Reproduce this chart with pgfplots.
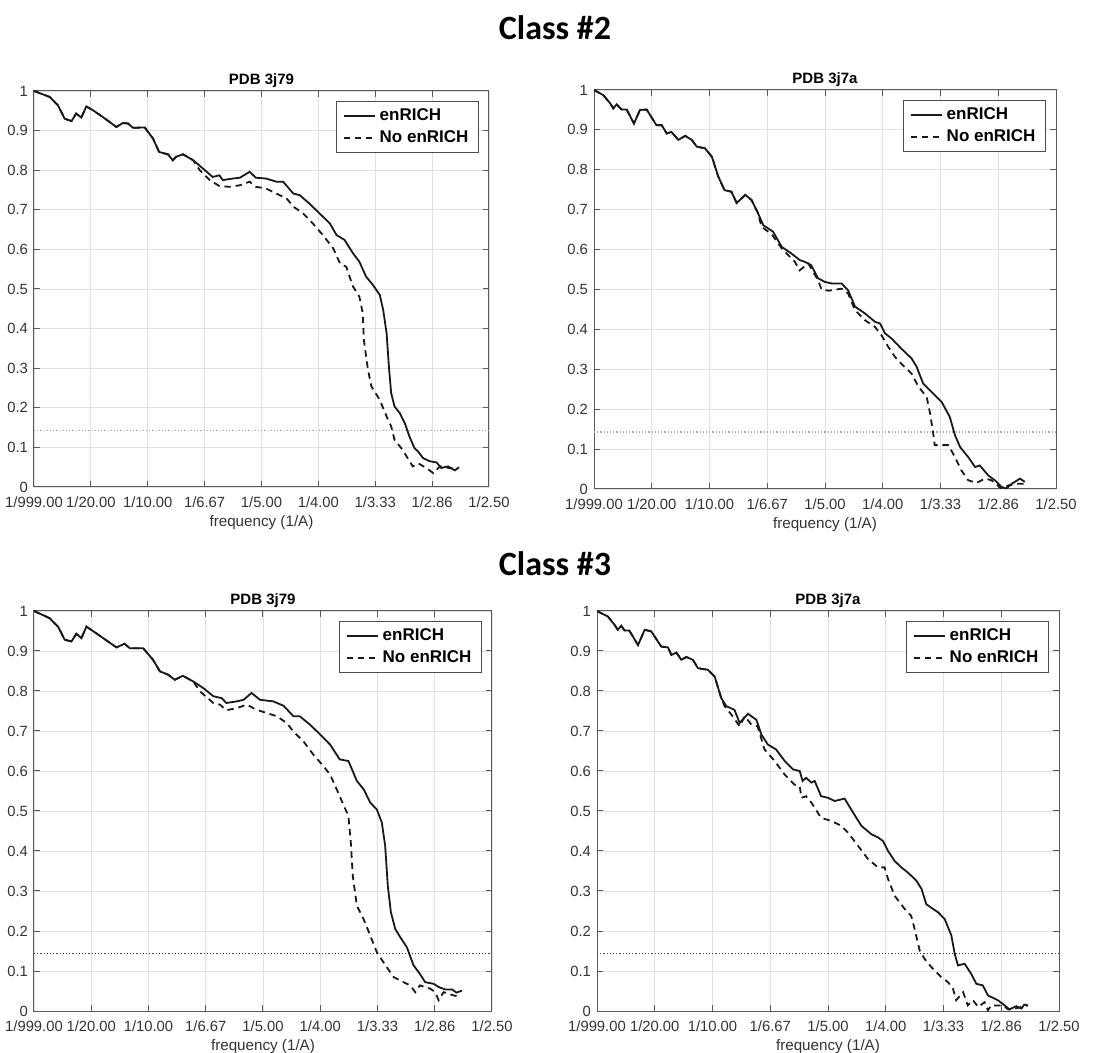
\documentclass[border=0pt]{standalone}
\usepackage{pgfplots}
\pgfplotsset{compat=1.18}
\usepackage{fontspec}
\setmainfont{Liberation Sans}
\newfontfamily\classfont{Carlito}
\definecolor{gridc}{RGB}{225,225,225}
\definecolor{axc}{RGB}{90,90,90}
\pgfplotsset{
  fscaxis/.style={
    scale only axis,
    xmin=0, xmax=0.4, ymin=0, ymax=1,
    xtick={0,0.05,0.1,0.15,0.2,0.25,0.3,0.35,0.4},
    xticklabels={1/999.00,1/20.00,1/10.00,1/6.67,1/5.00,1/4.00,1/3.33,1/2.86,1/2.50},
    ytick={0,0.1,0.2,0.3,0.4,0.5,0.6,0.7,0.8,0.9,1},
    yticklabels={0,0.1,0.2,0.3,0.4,0.5,0.6,0.7,0.8,0.9,1},
    grid=major,
    major grid style={gridc, line width=0.4pt},
    axis line style={axc, line width=0.5pt},
    tick style={axc, line width=0.5pt},
    tick align=inside,
    major tick length=3pt,
    ticklabel style={font=\fontsize{7.4}{8.5}\selectfont, text=black!80},
    xticklabel style={yshift=-1.5pt},
    yticklabel style={xshift=0.5pt},
    xlabel={frequency (1/A)},
    xlabel style={font=\fontsize{7.6}{8.5}\selectfont, text=black!80, yshift=3pt},
    title style={font=\bfseries\fontsize{7.5}{8}\selectfont, yshift=-8pt},
    legend style={at={(1,1)}, anchor=north east, xshift=-5pt, yshift=-5pt,
      font=\bfseries\fontsize{8.5}{10}\selectfont, draw=black!70, line width=0.5pt,
      inner xsep=3pt, inner ysep=1.5pt, row sep=-0.5pt},
    legend cell align=left,
    legend image code/.code={\draw[#1] (0cm,0cm) -- (0.55cm,0cm);},
  },
  solidstyle/.style={black!90, solid, line width=0.9pt, mark=none},
  dashstyle/.style={black!90, line width=0.9pt, mark=none, dash pattern=on 3.2pt off 2.4pt},
}
\begin{document}
\begin{tikzpicture}
\path[use as bounding box] (0,0) rectangle (555pt,-526.5pt);
\node[font=\classfont\bfseries\fontsize{17}{19}\selectfont] at (277.5pt,-14pt) {Class \#2};
\node[font=\classfont\bfseries\fontsize{17}{19}\selectfont] at (277.5pt,-282pt) {Class \#3};

% ---------------- Top left
\begin{axis}[fscaxis, at={(17pt,-45.5pt)}, anchor=north west, width=227.5pt, height=198pt, title={PDB 3j79}]
\addplot[gray!70, densely dotted, line width=0.6pt, forget plot] coordinates {(0,0.143) (0.4,0.143)};
\addplot[solidstyle] coordinates {
(0,1.0) (0.0138,0.985) (0.021,0.964) (0.027,0.930) (0.033,0.924) (0.037,0.943) (0.0416,0.933) (0.046,0.961) (0.052,0.951) (0.0607,0.934) (0.0724,0.909) (0.078,0.919) (0.0826,0.918) (0.087,0.907) (0.0973,0.908) (0.1046,0.880) (0.110,0.846) (0.1178,0.840) (0.122,0.825) (0.125,0.834) (0.131,0.840) (0.140,0.825) (0.1486,0.804) (0.157,0.783) (0.163,0.787) (0.166,0.775) (0.175,0.779) (0.181,0.781) (0.1896,0.796) (0.195,0.781) (0.204,0.779) (0.213,0.771) (0.219,0.771) (0.228,0.741) (0.2336,0.737) (0.242,0.716) (0.251,0.691) (0.26,0.666) (0.266,0.636) (0.273,0.624) (0.2805,0.590) (0.286,0.569) (0.292,0.531) (0.298,0.510) (0.304,0.485) (0.307,0.447) (0.310,0.388) (0.312,0.304) (0.314,0.237) (0.317,0.203) (0.3215,0.187) (0.326,0.161) (0.330,0.128) (0.3345,0.098) (0.3376,0.090) (0.342,0.073) (0.348,0.065) (0.354,0.062) (0.358,0.048) (0.364,0.052) (0.370,0.042) (0.3737,0.050)};
\addlegendentry{enRICH}
\addplot[dashstyle] coordinates {
(0,1.0) (0.0138,0.985) (0.021,0.964) (0.027,0.930) (0.033,0.924) (0.037,0.943) (0.0416,0.933) (0.046,0.961) (0.052,0.951) (0.0607,0.934) (0.0724,0.909) (0.078,0.919) (0.0826,0.918) (0.087,0.907) (0.0973,0.908) (0.1046,0.880) (0.110,0.846) (0.1178,0.840) (0.122,0.825) (0.125,0.834) (0.131,0.840) (0.140,0.825) (0.1457,0.800) (0.1545,0.775) (0.163,0.760) (0.172,0.758) (0.181,0.762) (0.1896,0.771) (0.195,0.758) (0.204,0.754) (0.213,0.741) (0.222,0.729) (0.228,0.708) (0.2365,0.691) (0.245,0.666) (0.254,0.636) (0.263,0.603) (0.269,0.565) (0.2745,0.556) (0.2805,0.506) (0.286,0.481) (0.289,0.439) (0.290,0.371) (0.2936,0.296) (0.2966,0.254) (0.304,0.220) (0.310,0.178) (0.314,0.153) (0.317,0.119) (0.324,0.094) (0.333,0.052) (0.3376,0.060) (0.345,0.048) (0.351,0.035) (0.357,0.052) (0.365,0.048) (0.3726,0.045)};
\addlegendentry{No enRICH}
\end{axis}

% ---------------- Top right
\begin{axis}[fscaxis, at={(297pt,-45pt)}, anchor=north west, width=231pt, height=199.5pt, title={PDB 3j7a}]
\addplot[gray!70, densely dotted, line width=0.6pt, forget plot] coordinates {(0,0.143) (0.4,0.143)};
\addplot[solidstyle] coordinates {
(0,1.0) (0.0081,0.987) (0.0139,0.967) (0.0167,0.954) (0.0196,0.964) (0.024,0.951) (0.0283,0.951) (0.0346,0.916) (0.0398,0.950) (0.0456,0.951) (0.054,0.912) (0.0586,0.912) (0.063,0.891) (0.067,0.895) (0.073,0.875) (0.079,0.885) (0.0846,0.875) (0.089,0.858) (0.096,0.854) (0.102,0.833) (0.1076,0.783) (0.113,0.749) (0.119,0.745) (0.1235,0.717) (0.131,0.737) (0.1365,0.724) (0.142,0.691) (0.1466,0.661) (0.155,0.645) (0.1625,0.607) (0.171,0.590) (0.178,0.574) (0.1827,0.569) (0.188,0.561) (0.194,0.528) (0.200,0.519) (0.206,0.515) (0.2144,0.515) (0.220,0.498) (0.226,0.457) (0.2346,0.440) (0.2433,0.419) (0.2476,0.415) (0.252,0.390) (0.2577,0.377) (0.266,0.352) (0.275,0.327) (0.2794,0.306) (0.285,0.264) (0.291,0.247) (0.301,0.218) (0.308,0.181) (0.3125,0.135) (0.317,0.105) (0.324,0.080) (0.330,0.055) (0.334,0.059) (0.3414,0.034) (0.347,0.022) (0.353,0.005) (0.357,0.001) (0.3616,0.013) (0.3688,0.026) (0.373,0.018)};
\addlegendentry{enRICH}
\addplot[dashstyle] coordinates {
(0,1.0) (0.0081,0.987) (0.0139,0.967) (0.0167,0.954) (0.0196,0.964) (0.024,0.951) (0.0283,0.951) (0.0346,0.916) (0.0398,0.950) (0.0456,0.951) (0.054,0.912) (0.0586,0.912) (0.063,0.891) (0.067,0.895) (0.073,0.875) (0.079,0.885) (0.0846,0.875) (0.089,0.858) (0.096,0.854) (0.102,0.833) (0.1076,0.783) (0.113,0.749) (0.119,0.745) (0.1235,0.717) (0.131,0.737) (0.1365,0.724) (0.142,0.691) (0.145,0.657) (0.1538,0.639) (0.1625,0.603) (0.174,0.569) (0.178,0.548) (0.1856,0.565) (0.194,0.523) (0.197,0.500) (0.203,0.497) (0.2144,0.502) (0.220,0.490) (0.226,0.448) (0.2346,0.423) (0.2433,0.406) (0.249,0.385) (0.2548,0.356) (0.2606,0.331) (0.266,0.314) (0.275,0.289) (0.281,0.256) (0.288,0.231) (0.291,0.189) (0.2937,0.139) (0.295,0.110) (0.3068,0.110) (0.3125,0.080) (0.318,0.047) (0.324,0.022) (0.331,0.015) (0.3385,0.026) (0.344,0.022) (0.353,0.001) (0.3587,0.009) (0.366,0.013) (0.373,0.013)};
\addlegendentry{No enRICH}
\end{axis}

% ---------------- Bottom left
\begin{axis}[fscaxis, at={(17pt,-305.5pt)}, anchor=north west, width=229pt, height=200pt, title={PDB 3j79}]
\addplot[black!75, densely dotted, line width=0.6pt, forget plot] coordinates {(0,0.143) (0.4,0.143)};
\addplot[solidstyle] coordinates {
(0,1.0) (0.0137,0.982) (0.021,0.961) (0.0268,0.928) (0.0327,0.924) (0.037,0.943) (0.0414,0.932) (0.0458,0.961) (0.0545,0.944) (0.072,0.909) (0.079,0.918) (0.0837,0.907) (0.0953,0.907) (0.104,0.878) (0.110,0.849) (0.117,0.841) (0.123,0.828) (0.130,0.838) (0.139,0.824) (0.148,0.807) (0.1566,0.787) (0.164,0.782) (0.168,0.770) (0.177,0.774) (0.183,0.778) (0.190,0.795) (0.1974,0.778) (0.209,0.774) (0.218,0.763) (0.2265,0.737) (0.232,0.737) (0.241,0.716) (0.250,0.691) (0.2586,0.666) (0.267,0.629) (0.2746,0.625) (0.282,0.575) (0.288,0.554) (0.2936,0.521) (0.2994,0.504) (0.3038,0.471) (0.3067,0.413) (0.309,0.313) (0.3117,0.247) (0.3155,0.205) (0.320,0.184) (0.3257,0.159) (0.3315,0.114) (0.336,0.097) (0.3417,0.072) (0.349,0.068) (0.3534,0.060) (0.359,0.054) (0.365,0.054) (0.369,0.046) (0.3738,0.051)};
\addlegendentry{enRICH}
\addplot[dashstyle] coordinates {
(0,1.0) (0.0137,0.982) (0.021,0.961) (0.0268,0.928) (0.0327,0.924) (0.037,0.943) (0.0414,0.932) (0.0458,0.961) (0.0545,0.944) (0.072,0.909) (0.079,0.918) (0.0837,0.907) (0.0953,0.907) (0.104,0.878) (0.110,0.849) (0.117,0.841) (0.123,0.828) (0.130,0.838) (0.139,0.824) (0.145,0.799) (0.1566,0.770) (0.1624,0.766) (0.168,0.752) (0.177,0.757) (0.1857,0.766) (0.1945,0.753) (0.2032,0.745) (0.212,0.737) (0.2207,0.720) (0.2265,0.699) (0.2353,0.674) (0.244,0.641) (0.2528,0.612) (0.2586,0.591) (0.2644,0.554) (0.270,0.517) (0.2746,0.488) (0.2767,0.421) (0.2784,0.338) (0.282,0.263) (0.2878,0.230) (0.2936,0.189) (0.2994,0.147) (0.3052,0.122) (0.314,0.085) (0.3227,0.072) (0.3286,0.064) (0.333,0.047) (0.337,0.064) (0.346,0.056) (0.3504,0.047) (0.3534,0.027) (0.3577,0.047) (0.3665,0.039) (0.3723,0.035)};
\addlegendentry{No enRICH}
\end{axis}

% ---------------- Bottom right
\begin{axis}[fscaxis, at={(298.5pt,-305.5pt)}, anchor=north west, width=231pt, height=200pt, title={PDB 3j7a}]
\addplot[black!75, densely dotted, line width=0.6pt, forget plot] coordinates {(0,0.143) (0.4,0.143)};
\addplot[solidstyle] coordinates {
(0,1.0) (0.0095,0.986) (0.0153,0.965) (0.018,0.953) (0.021,0.963) (0.024,0.951) (0.028,0.951) (0.0355,0.915) (0.0413,0.953) (0.047,0.949) (0.0557,0.911) (0.0615,0.909) (0.0644,0.890) (0.0687,0.896) (0.073,0.878) (0.0773,0.885) (0.083,0.878) (0.0874,0.857) (0.096,0.853) (0.1019,0.836) (0.1076,0.782) (0.112,0.762) (0.119,0.753) (0.1235,0.720) (0.1307,0.743) (0.138,0.728) (0.1423,0.691) (0.148,0.666) (0.155,0.654) (0.1625,0.625) (0.1697,0.604) (0.1755,0.600) (0.178,0.575) (0.181,0.583) (0.1856,0.571) (0.1885,0.575) (0.194,0.537) (0.200,0.533) (0.2058,0.525) (0.2115,0.529) (0.2144,0.531) (0.220,0.504) (0.2289,0.463) (0.2375,0.442) (0.2433,0.434) (0.2476,0.425) (0.252,0.400) (0.2577,0.375) (0.2635,0.359) (0.2692,0.346) (0.2765,0.326) (0.281,0.305) (0.2851,0.267) (0.291,0.255) (0.2952,0.247) (0.301,0.230) (0.3068,0.189) (0.3097,0.143) (0.3125,0.114) (0.3183,0.118) (0.324,0.093) (0.3284,0.068) (0.334,0.064) (0.3385,0.039) (0.347,0.027) (0.353,0.014) (0.357,0.004) (0.363,0.012) (0.3674,0.006) (0.370,0.016) (0.373,0.014)};
\addlegendentry{enRICH}
\addplot[dashstyle] coordinates {
(0,1.0) (0.0095,0.986) (0.0153,0.965) (0.018,0.953) (0.021,0.963) (0.024,0.951) (0.028,0.951) (0.0355,0.915) (0.0413,0.953) (0.047,0.949) (0.0557,0.911) (0.0615,0.909) (0.0644,0.890) (0.0687,0.896) (0.073,0.878) (0.0773,0.885) (0.083,0.878) (0.0874,0.857) (0.096,0.853) (0.1019,0.836) (0.1076,0.782) (0.1105,0.762) (0.1163,0.741) (0.1235,0.712) (0.128,0.737) (0.1336,0.716) (0.139,0.712) (0.145,0.654) (0.1538,0.625) (0.1625,0.591) (0.171,0.566) (0.1755,0.562) (0.177,0.533) (0.181,0.537) (0.1856,0.521) (0.194,0.483) (0.2029,0.475) (0.2115,0.463) (0.2173,0.446) (0.226,0.413) (0.2346,0.380) (0.2433,0.359) (0.249,0.359) (0.252,0.330) (0.2577,0.288) (0.2664,0.255) (0.272,0.238) (0.275,0.205) (0.2794,0.151) (0.2837,0.130) (0.2894,0.110) (0.298,0.085) (0.3039,0.072) (0.3082,0.056) (0.311,0.027) (0.317,0.047) (0.321,0.014) (0.3255,0.027) (0.330,0.010) (0.3356,0.022) (0.3385,0.002) (0.3414,0.014) (0.3515,0.014) (0.356,0.004) (0.3616,0.006) (0.3674,0.010) (0.373,0.014)};
\addlegendentry{No enRICH}
\end{axis}
\end{tikzpicture}
\end{document}
